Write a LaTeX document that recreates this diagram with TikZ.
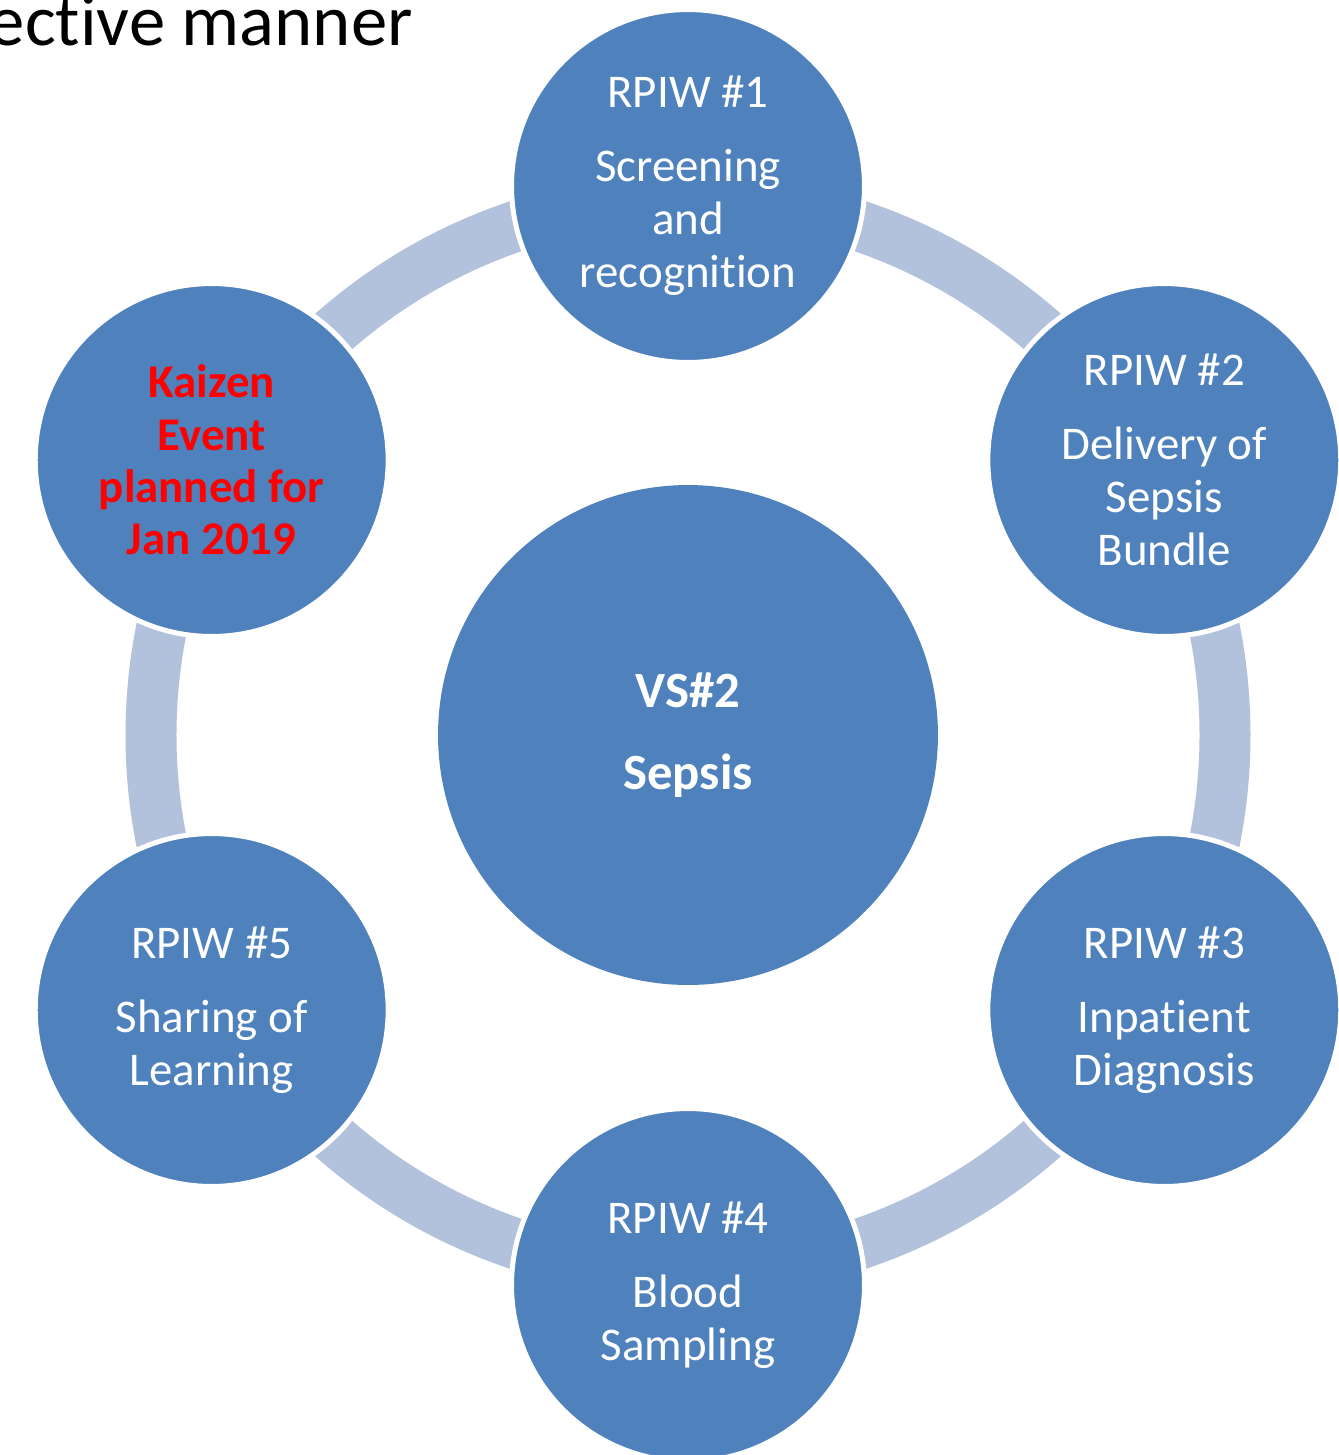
\documentclass[tikz,border=0pt]{standalone}
\usepackage{fontspec}
\setmainfont{Carlito}[Ligatures=NoCommon]
\newcommand{\nolig}{\kern0pt }
\definecolor{nodeblue}{HTML}{4F81BD}
\definecolor{ringblue}{HTML}{B2C1DC}
\definecolor{kaizenred}{HTML}{FF0000}
\begin{document}
\begin{tikzpicture}[x=0.02cm,y=-0.02cm,
  stage/.style={circle, fill=nodeblue, draw=white, line width=0.1cm, minimum size=7.06cm, inner sep=0pt, align=center, text=white, font=\fontsize{26.7pt}{30.1pt}\selectfont},
  kaizen/.style={stage, text=kaizenred, font=\fontsize{26.7pt}{29.8pt}\selectfont\bfseries},
  hub/.style={circle, fill=nodeblue, minimum size=10cm, inner sep=0pt, align=center, text=white, font=\fontsize{28.9pt}{35pt}\selectfont\bfseries},
  ringband/.style={draw=ringblue, line width=1.02cm},
  titletext/.style={anchor=base east, inner sep=0pt, font=\fontsize{41.4pt}{50pt}\selectfont}]
\useasboundingbox (0,0) rectangle (1339,1455);
\clip (0,0) rectangle (1339,1455);
\fill[white] (0,0) rectangle (1339,1455);
\node[titletext] (title) at (413,45) {ect\nolig ive manner};
\coordinate (c) at (688,735);
\draw[ringband] (c) circle[radius=537];
\node[hub] (hub) at (c) {VS\#2\\[12pt]Sepsis};
\node[stage] (s1) at (688,186) {RPIW \#1\\[12pt]Screening\\and\\recognit\nolig ion};
\node[stage] (s2) at (1164.3,460) {RPIW \#2\\[12pt]Delivery of\\Sepsis\\Bundle};
\node[stage] (s3) at (1164.3,1010) {RPIW \#3\\[12pt]Inpatient\\Diagnosis};
\node[stage] (s4) at (688,1285) {RPIW \#4\\[12pt]Blood\\Sampling};
\node[stage] (s5) at (211.7,1010) {RPIW \#5\\[12pt]Sharing of\\Learning};
\node[kaizen] (k) at (211.7,460) {Kaizen\\Event\\planned for\\Jan 2019};
\end{tikzpicture}
\end{document}
